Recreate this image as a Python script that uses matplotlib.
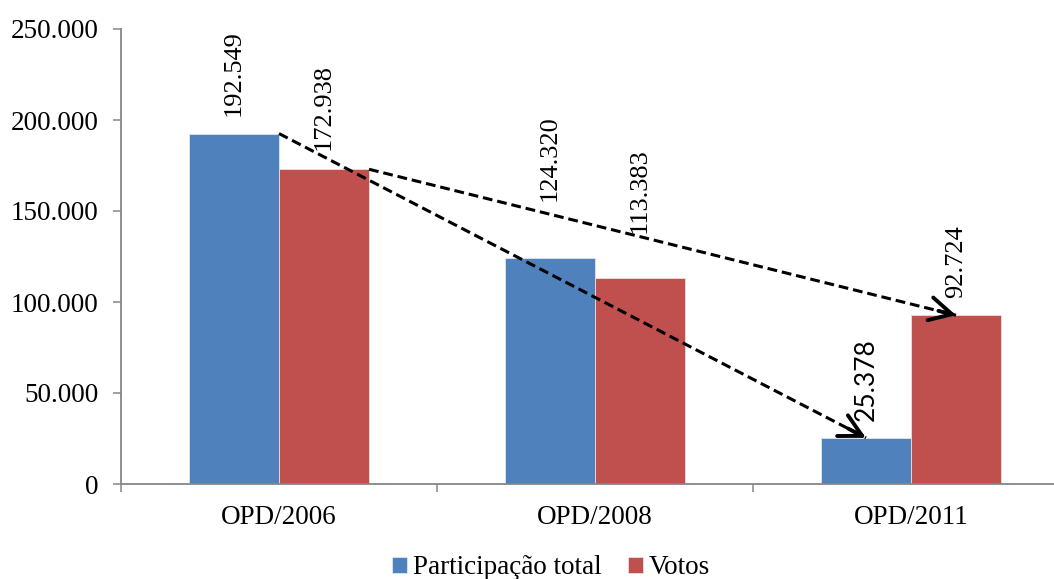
import matplotlib
matplotlib.use("Agg")
import matplotlib.pyplot as plt
import numpy as np

# data
categories = ["OPD/2006", "OPD/2008", "OPD/2011"]
participacao = [192549, 124320, 25378]
votos = [172938, 113383, 92724]
series_names = ["Participação total", "Votos"]
yticks = [0, 50000, 100000, 150000, 200000, 250000]

# label gaps above bar tops (pixels), labels were moved by hand in the original
gap_part = [18, 57, 17]
gap_votos = [19, 45, 17]
label_family_part = ["Liberation Serif", "Liberation Serif", "Lato"]

BLUE = "#4F81BD"
RED = "#C0504D"
AXIS = "#868686"

plt.rcParams["font.family"] = ["Liberation Serif", "DejaVu Serif"]

W, H = 1054, 579
fig = plt.figure(figsize=(W / 100, H / 100), dpi=100)
# the original crop cuts the plot area off on the right
ax = fig.add_axes([121 / W, 1 - 484 / H, 948 / W, 455 / H])

x = np.arange(len(categories))
bw = 0.285
b1 = ax.bar(x - bw / 2, participacao, bw, color=BLUE, edgecolor="#DCE6F2",
            linewidth=0.6, label=series_names[0])
b2 = ax.bar(x + bw / 2, votos, bw, color=RED, edgecolor="#F2DCDB",
            linewidth=0.6, label=series_names[1])

ax.set_xlim(-0.5, 2.5)
ax.set_ylim(0, 250000)


def fmt(v):
    return "0" if v == 0 else f"{v:,.0f}".replace(",", ".")


ax.set_yticks(yticks)
ax.set_yticklabels([fmt(v) for v in yticks])
ax.set_xticks(x)
ax.set_xticklabels(categories)
ax.set_xticks(np.arange(-0.5, 2.6, 1.0), minor=True)

ax.tick_params(axis="y", which="major", length=6, width=1.1, color=AXIS,
               labelsize=19.5, pad=10, direction="out")
ax.tick_params(axis="x", which="major", length=0, labelsize=19.5, pad=15)
ax.tick_params(axis="x", which="minor", length=6, width=1.1, color=AXIS,
               direction="out")

for side in ("top", "right"):
    ax.spines[side].set_visible(False)
for side in ("left", "bottom"):
    ax.spines[side].set_color(AXIS)
    ax.spines[side].set_linewidth(1.3)

# rotated value labels
for i, rect in enumerate(b1):
    ax.annotate(fmt(participacao[i]),
                (rect.get_x() + rect.get_width() / 2, rect.get_height()),
                xytext=(0, gap_part[i] * 0.72), textcoords="offset points",
                rotation=90, ha="center", va="bottom", fontsize=19,
                family=[label_family_part[i], "DejaVu Sans"])
for i, rect in enumerate(b2):
    ax.annotate(fmt(votos[i]),
                (rect.get_x() + rect.get_width() / 2, rect.get_height()),
                xytext=(0, gap_votos[i] * 0.72), textcoords="offset points",
                rotation=90, ha="center", va="bottom", fontsize=19)


def dashed_arrow(x0, y0, x1, y1):
    ax.plot([x0, x1], [y0, y1], color="black", lw=2.2,
            linestyle=(0, (3.2, 1.6)), zorder=4, clip_on=False)
    # solid open head at the end
    back = 0.03
    ax.annotate("", xy=(x1, y1),
                xytext=(x1 - back * (x1 - x0), y1 - back * (y1 - y0)),
                arrowprops=dict(arrowstyle="->,head_length=0.8,head_width=0.42",
                                lw=2.8, color="black", mutation_scale=20,
                                shrinkA=0, shrinkB=0), zorder=5)


# from the 2006 bars down to the 2011 bars
r0, r2 = b1[0], b1[2]
dashed_arrow(r0.get_x() + r0.get_width(), r0.get_height(),
             r2.get_x() + r2.get_width() / 2, r2.get_height())
r0, r2 = b2[0], b2[2]
dashed_arrow(r0.get_x() + r0.get_width(), r0.get_height(),
             r2.get_x() + r2.get_width() / 2, r2.get_height())

fig.legend(handles=[b1, b2], labels=series_names, loc="center",
           bbox_to_anchor=(551 / W, 1 - 568 / H), ncol=2, frameon=False,
           fontsize=19.5, handlelength=0.55, handleheight=0.55,
           handletextpad=0.2, columnspacing=1.0, borderaxespad=0)

fig.savefig("out.png", dpi=100)
